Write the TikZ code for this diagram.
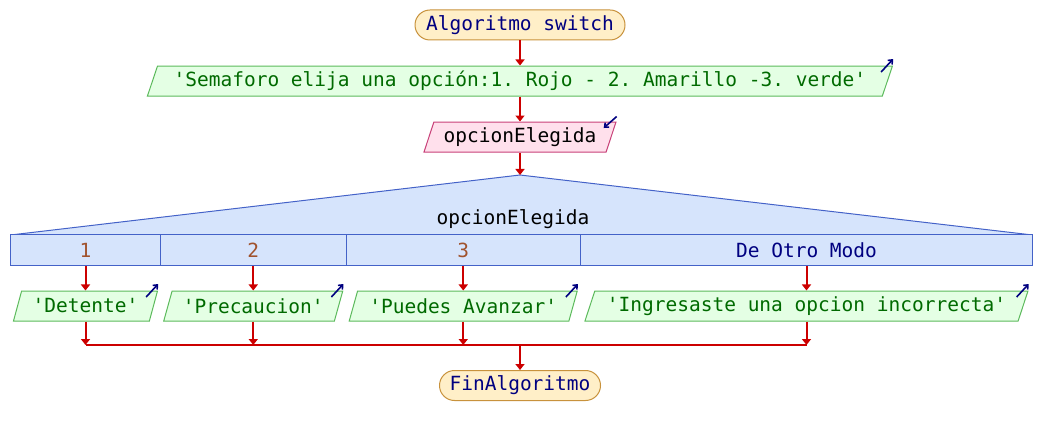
\documentclass[tikz,border=0pt]{standalone}
\usepackage{fontspec}
\setmonofont{DejaVu Sans Mono}
\usepackage{tikz}
\usetikzlibrary{positioning}
\usetikzlibrary{shapes.geometric}
\usetikzlibrary{arrows.meta}
\definecolor{termfill}{HTML}{FFEFC8}
\definecolor{termline}{HTML}{C8923C}
\definecolor{outfill}{HTML}{E4FFE4}
\definecolor{outline}{HTML}{5CBA5C}
\definecolor{outtext}{HTML}{006A00}
\definecolor{infill}{HTML}{FFE0EC}
\definecolor{inline}{HTML}{C84078}
\definecolor{swfill}{HTML}{D6E4FC}
\definecolor{swline}{HTML}{4462C8}
\definecolor{casebrown}{HTML}{A0522D}
\definecolor{navytext}{HTML}{000080}
\definecolor{flowred}{HTML}{CC0000}
\tikzset{
    pseint diagram/.style={
            x=1pt,y=-1pt,
            font=\ttfamily\fontsize{19.5}{23}\selectfont,
            terminal/.style={draw=termline, fill=termfill, text=navytext, rounded corners=15pt, minimum height=30pt, line width=1pt},
            io/.style={trapezium, trapezium left angle=69, trapezium right angle=111, trapezium stretches body, minimum height=30pt, inner xsep=2pt, line width=1pt},
            outbox/.style={io, draw=outline, fill=outfill, text=outtext},
            inbox/.style={io, draw=inline, fill=infill, text=black},
            casecell/.style={draw=swline, fill=swfill, minimum height=31pt, inner sep=0pt, line width=1pt},
            flow/.style={draw=flowred, line width=2pt, -{Triangle[length=6pt,width=9pt]}},
            icon/.style={draw=navytext, line width=1.6pt, -{Straight Barb[length=3.5pt,width=6pt]}}
        }
    }
\begin{document}
\begin{tikzpicture}[pseint diagram]
        \useasboundingbox (0,0) rectangle (1040,435);

        \node (start) [terminal, minimum width=210pt] at (520,25) {Algoritmo switch};
        \node (out) [outbox, minimum width=745pt, below=25pt of start] {'Semaforo elija una opción:1. Rojo - 2. Amarillo -3. verde'};
        \node (read) [inbox, minimum width=192pt, below=25pt of out] {opcionElegida};

        % selector
        \coordinate (apex) at (520,175);
        \filldraw [fill=swfill, draw=swline, line width=1pt] (10.5,235) -- (apex) -- (1032.5,235) -- cycle;
        \node (sel) at (513,219) {opcionElegida};
        \node (c1) [casecell, minimum width=150pt, text=casebrown] at (85.5,250.5) {1};
        \node (c2) [casecell, minimum width=185.5pt, text=casebrown] at (253.25,250.5) {2};
        \node (c3) [casecell, minimum width=234.5pt, text=casebrown] at (463.25,250.5) {3};
        \node (c4) [casecell, minimum width=452pt, text=navytext] at (806.5,250.5) {De Otro Modo};

        \node (d1) [outbox, minimum width=144pt, below=24pt of c1] {'Detente'};
        \node (d2) [outbox, minimum width=179pt, below=24pt of c2] {'Precaucion'};
        \node (d3) [outbox, minimum width=228pt, below=24pt of c3] {'Puedes Avanzar'};
        \node (d4) [outbox, minimum width=443pt, below=24pt of c4] {'Ingresaste una opcion incorrecta'};

        \coordinate (join) at (520,345);
        \node (fin) [terminal, minimum width=161pt, below=25pt of join] {FinAlgoritmo};

        \draw [flow] (start.south) -- (out.north);
        \draw [flow] (out.south) -- (read.north);
        \draw [flow] (read.south) -- (apex);
        \foreach \i in {1,...,4}
            \draw [flow] (c\i.south) -- (d\i.north);
        \draw [draw=flowred, line width=2pt] (d1.south |- join) -- (d4.south |- join);
        \foreach \i in {1,...,4}
            \draw [flow] (d\i.south) -- (d\i.south |- join);
        \draw [flow] (join) -- (fin.north);

        % small arrows at the corners
        \foreach \n in {out,d1,d2,d3,d4}
            \draw [icon] ([shift={(-12pt,-6.5pt)}]\n.top right corner) -- ([shift={(0pt,6.5pt)}]\n.top right corner);
        \draw [icon] ([shift={(0pt,5pt)}]read.top right corner) -- ([shift={(-13pt,-6.5pt)}]read.top right corner);
    \end{tikzpicture}
\end{document}
